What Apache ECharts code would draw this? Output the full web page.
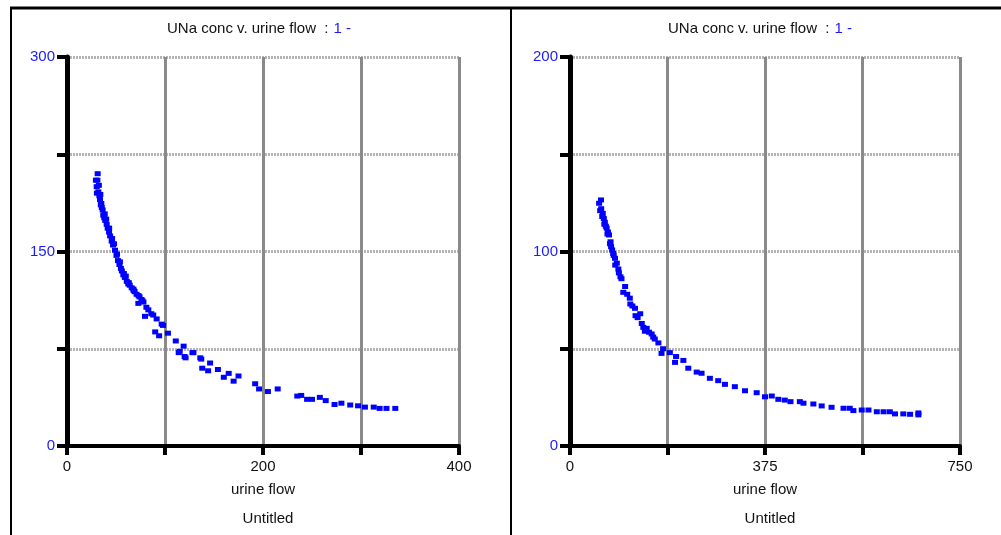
<!DOCTYPE html>
<html>
<head>
<meta charset="utf-8">
<script src="https://cdn.jsdelivr.net/npm/echarts@6/dist/echarts.min.js"></script>
<style>
  html, body { margin: 0; padding: 0; background: #fff; }
  #main { width: 1001px; height: 535px; }
</style>
</head>
<body>
<div id="main"></div>
<script>
// left panel: urine flow 0..400, UNa conc 0..300
var leftFlow = [30.3, 31.3, 31, 32, 33, 33.7, 34.5, 35.5, 36.4, 37, 38, 39, 40.5, 41.5, 42.9, 44, 45.6, 47, 49, 50.5,
    52, 53.5, 55, 56, 57.5, 59, 61, 62.5, 64, 66, 67.7, 69, 71, 72.8, 74, 76, 78, 79.6, 81, 83,
    86, 88, 90, 91.5, 94, 96.6, 98, 103, 111, 114, 115, 119, 120, 121, 128, 129, 136, 137, 138, 144,
    146, 154, 160, 165, 170, 175, 192, 196, 205, 215, 235, 239, 245, 250, 258, 264, 273, 280, 289, 297,
    304, 313, 319, 326, 335,
    29.5, 30.5, 32.5, 34, 35, 38.5, 40, 43, 46, 48, 51, 54, 58, 60, 63, 68, 73, 77];
var leftConc = [200, 210, 205, 196, 193, 190, 186, 184, 182, 178, 176, 174, 171, 168, 165, 162, 158, 155, 151, 147,
    143, 140, 137, 135, 132, 130, 127, 125, 124, 122, 121, 119, 117, 110, 115, 113, 111, 100, 107, 105,
    102, 101, 88, 98, 85, 94, 93, 87, 81, 72, 73, 77, 69, 68, 72, 72, 68, 67, 60, 58,
    64, 59, 53, 56, 50, 54, 48, 44, 42, 44, 38.5, 39, 36, 36, 37.5, 35, 32, 33, 31.6, 31,
    30, 30, 29, 29, 29,
    205, 195, 201, 194, 187, 179, 175, 168, 160, 156, 148, 142, 133, 131, 126, 120, 116, 112];

// right panel: urine flow 0..750, UNa conc 0..200
var rightFlow = [56, 59.6, 60, 63, 65, 67, 70.5, 73, 75, 77, 79, 81, 84, 86.5, 87, 93, 94, 99, 102.5, 106,
    110, 115, 116, 120, 125, 126, 135, 138, 144, 147.5, 152, 157, 163, 170, 176, 179, 192, 202, 204, 218,
    227.5, 243.6, 253, 269, 285, 298, 317, 336.5, 359, 375, 388, 400.6, 413, 424, 442, 449, 468, 484, 503, 526,
    538, 545, 561, 574, 590, 603, 615, 625, 641, 654, 670, 670,
    58, 62, 66, 69, 72, 78, 83, 90, 97, 130, 141, 160];
var rightConc = [124.8, 126.5, 122, 119.6, 117, 115, 112, 110, 108.5, 104, 102.5, 100.8, 98, 96.5, 93, 91, 89, 86, 79, 82,
    78, 76, 73, 72, 70.8, 67, 68, 63, 59, 60.5, 58.5, 57.6, 55, 53, 47.6, 50, 48, 43, 46, 44,
    40, 38, 37.4, 34.8, 33.6, 31.7, 30.5, 28.4, 27.4, 25.3, 25.7, 24, 23.6, 22.8, 22.8, 22, 21.6, 20.6, 19.9, 19.4,
    19.4, 18.2, 18.5, 18.5, 17.6, 17.6, 17.6, 16.5, 16.5, 16.3, 16, 17,
    121, 118, 114, 113, 109, 105, 99, 94, 87, 66, 61, 56];

// tick labels shown on each axis
var leftXLabels = [0, 200, 400];
var leftYLabels = [0, 150, 300];
var rightXLabels = [0, 375, 750];
var rightYLabels = [0, 100, 200];

var FONT = 'Liberation Sans, Arial, sans-serif';

function pairs(xs, ys) {
    return xs.map(function (x, i) { return [x, ys[i]]; });
}

function onlyLabels(list) {
    return function (v) { return list.indexOf(v) >= 0 ? String(v) : ''; };
}

function xAxisFor(idx, max, step, labels) {
    return {
        type: 'value', gridIndex: idx, min: 0, max: max, interval: step,
        name: 'urine flow', nameLocation: 'middle', nameGap: 36,
        nameTextStyle: { color: '#111', fontSize: 15, fontFamily: FONT },
        axisLine: { show: true, onZero: false, lineStyle: { color: '#000', width: 4 } },
        axisTick: { show: true, length: 9, lineStyle: { color: '#000', width: 4 } },
        axisLabel: { formatter: onlyLabels(labels), color: '#111', fontSize: 15, fontFamily: FONT, margin: 13 },
        splitLine: { show: true, lineStyle: { color: '#8a8a8a', width: 3 } }
    };
}

function yAxisFor(idx, max, step, labels) {
    return {
        type: 'value', gridIndex: idx, min: 0, max: max, interval: step,
        axisLine: { show: true, onZero: false, lineStyle: { color: '#000', width: 5 } },
        axisTick: { show: true, length: 10, lineStyle: { color: '#000', width: 4 } },
        axisLabel: { formatter: onlyLabels(labels), color: '#1a1aff', fontSize: 15, fontFamily: FONT, margin: 12 },
        splitLine: { show: true, lineStyle: { color: '#b4b4b4', width: 3, type: [2, 1] } }
    };
}

function titleFor(cx) {
    return {
        text: '{k|UNa conc v. urine flow  :} {b|1 -}',
        left: cx, top: 20, textAlign: 'center', padding: 0,
        textStyle: {
            fontWeight: 'normal',
            rich: {
                k: { color: '#111', fontSize: 15, fontWeight: 'normal', fontFamily: FONT },
                b: { color: '#1a1aff', fontSize: 15, fontWeight: 'normal', fontFamily: FONT }
            }
        }
    };
}

function untitledFor(cx) {
    return {
        text: 'Untitled', left: cx, top: 511, textAlign: 'center', padding: 0,
        textStyle: { color: '#111', fontSize: 15, fontWeight: 'normal', fontFamily: FONT }
    };
}

var chart = echarts.init(document.getElementById('main'), null, { renderer: 'canvas' });

var option = {
    backgroundColor: '#fff',
    animation: false,
    title: [titleFor(259), titleFor(760), untitledFor(268), untitledFor(770)],
    grid: [
        { left: 67, top: 57, width: 392, height: 389 },
        { left: 570, top: 57, width: 390, height: 389 }
    ],
    xAxis: [xAxisFor(0, 400, 100, leftXLabels), xAxisFor(1, 750, 187.5, rightXLabels)],
    yAxis: [yAxisFor(0, 300, 75, leftYLabels), yAxisFor(1, 200, 50, rightYLabels)],
    series: [
        {
            type: 'scatter', xAxisIndex: 0, yAxisIndex: 0,
            symbol: 'rect', symbolSize: [6, 5],
            itemStyle: { color: '#0000ff', opacity: 1 },
            data: pairs(leftFlow, leftConc)
        },
        {
            type: 'scatter', xAxisIndex: 1, yAxisIndex: 1,
            symbol: 'rect', symbolSize: [6, 5],
            itemStyle: { color: '#0000ff', opacity: 1 },
            data: pairs(rightFlow, rightConc)
        }
    ],
    // panel frame lines
    graphic: [
        { type: 'line', shape: { x1: 10, y1: 8, x2: 1001, y2: 8 }, style: { stroke: '#000', lineWidth: 3 } },
        { type: 'line', shape: { x1: 11, y1: 7, x2: 11, y2: 535 }, style: { stroke: '#000', lineWidth: 2 } },
        { type: 'line', shape: { x1: 511, y1: 7, x2: 511, y2: 535 }, style: { stroke: '#000', lineWidth: 2 } }
    ]
};

chart.setOption(option);
</script>
</body>
</html>
